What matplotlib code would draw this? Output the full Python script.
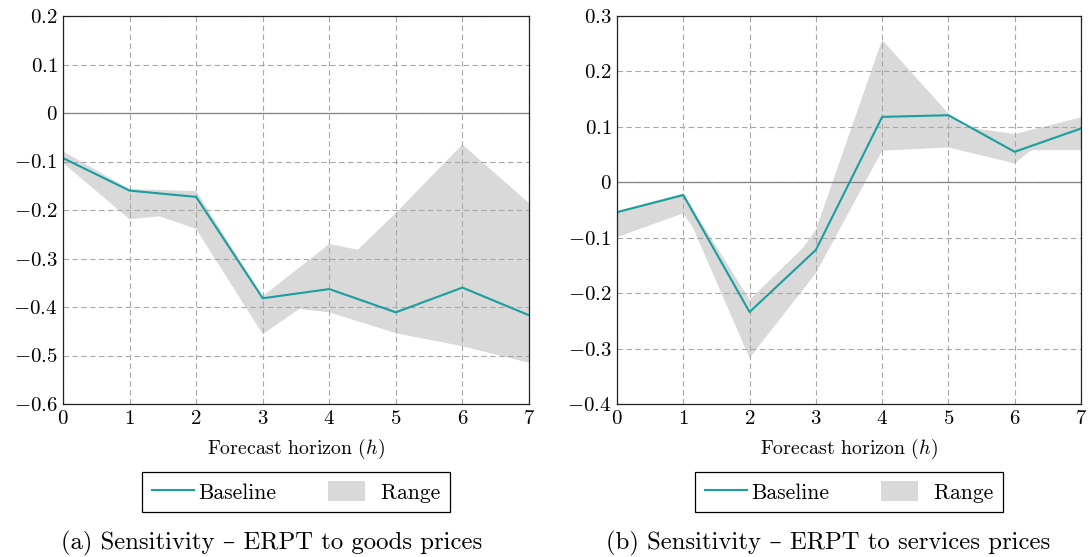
import numpy as np
import matplotlib
matplotlib.use("Agg")
import matplotlib.pyplot as plt
from matplotlib.ticker import FuncFormatter, MultipleLocator
from matplotlib.legend_handler import HandlerPatch
from matplotlib.patches import Rectangle

plt.rcParams['mathtext.fontset'] = 'cm'
plt.rcParams['font.family'] = ['cmr10', 'DejaVu Serif']
plt.rcParams['axes.formatter.use_mathtext'] = True

# ---------------- data ----------------
horizon = [0, 1, 2, 3, 4, 5, 6, 7]

# (a) goods prices
goods_baseline = [-0.093, -0.160, -0.173, -0.382, -0.363, -0.411, -0.360, -0.417]
goods_upper_x = [0, 1, 2, 3, 4, 4.43, 5, 6, 7]
goods_upper_y = [-0.079, -0.157, -0.161, -0.378, -0.270, -0.282, -0.206, -0.065, -0.186]
goods_lower_x = [0, 1, 1.45, 2, 3, 3.55, 4, 5, 6, 7]
goods_lower_y = [-0.103, -0.219, -0.213, -0.239, -0.456, -0.404, -0.411, -0.454, -0.481, -0.515]

# (b) services prices
serv_baseline = [-0.054, -0.023, -0.234, -0.122, 0.118, 0.121, 0.055, 0.097]
serv_upper_x = [0, 1, 2, 2.8, 3, 4, 5, 5.25, 6, 7]
serv_upper_y = [-0.052, -0.020, -0.212, -0.119, -0.086, 0.257, 0.124, 0.100, 0.087, 0.117]
serv_lower_x = [0, 1, 1.15, 2, 3, 4, 5, 6, 6.25, 7]
serv_lower_y = [-0.099, -0.056, -0.083, -0.317, -0.164, 0.057, 0.063, 0.034, 0.058, 0.058]

panels = [
    dict(base=goods_baseline, ux=goods_upper_x, uy=goods_upper_y, lx=goods_lower_x, ly=goods_lower_y,
         ylim=(-0.6, 0.2), caption='(a) Sensitivity – ERPT to goods prices'),
    dict(base=serv_baseline, ux=serv_upper_x, uy=serv_upper_y, lx=serv_lower_x, ly=serv_lower_y,
         ylim=(-0.4, 0.3), caption='(b) Sensitivity – ERPT to services prices'),
]

TEAL = '#1a9e9e'
BAND = '#d9d9d9'

fig = plt.figure(figsize=(10.92, 5.57), dpi=100)
W, H = 1092, 557
axes_px = [(63, 529), (617, 1081)]
caption_cx = [272, 828]
top_px, bot_px = 16, 404


def fmt(v, pos):
    if abs(v) < 1e-9:
        return r'$0$'
    return r'$%.1f$' % v


def small_patch(legend, orig_handle, xdescent, ydescent, width, height, fontsize):
    return Rectangle((-xdescent, -ydescent), width * 0.9, height)


for p, (x0, x1), ccx in zip(panels, axes_px, caption_cx):
    ax = fig.add_axes([x0 / W, 1 - bot_px / H, (x1 - x0) / W, (bot_px - top_px) / H])
    poly_x = list(p['ux']) + list(p['lx'])[::-1]
    poly_y = list(p['uy']) + list(p['ly'])[::-1]
    band = ax.fill(poly_x, poly_y, color=BAND, lw=0, zorder=1)[0]
    line, = ax.plot(horizon, p['base'], color=TEAL, lw=1.5, zorder=3)
    ax.axhline(0, color='#808080', lw=0.9, zorder=2.6)
    ax.set_xlim(0, 7)
    ax.set_ylim(*p['ylim'])
    ax.xaxis.set_major_locator(MultipleLocator(1))
    ax.yaxis.set_major_locator(MultipleLocator(0.1))
    ax.yaxis.set_major_formatter(FuncFormatter(fmt))
    ax.xaxis.set_major_formatter(FuncFormatter(lambda v, pos: r'$%d$' % round(v)))
    ax.set_axisbelow(False)
    ax.grid(True, linestyle=(0, (5, 3)), color='#a8a8a8', lw=0.8, zorder=2.5)
    ax.tick_params(length=0, labelsize=15, pad=4)
    for s in ax.spines.values():
        s.set_linewidth(0.9)
        s.set_color('#222222')
        s.set_zorder(4)
    cx = (x0 + x1) / 2 / W
    fig.text(cx, 1 - 449 / H, r'Forecast horizon ($h$)', ha='center', va='center', fontsize=14.3)
    leg = ax.legend([line, band], ['Baseline', ' Range'],
                    handler_map={band: HandlerPatch(patch_func=small_patch)},
                    loc='center', bbox_to_anchor=(cx, 1 - 492 / H), bbox_transform=fig.transFigure,
                    ncol=2, fontsize=15.5, frameon=True, fancybox=False, framealpha=1,
                    edgecolor='black', handlelength=1.95, handleheight=1.0, handletextpad=0.2,
                    columnspacing=2.4, borderpad=0.45)
    leg.get_frame().set_linewidth(0.9)
    fig.text(ccx / W, 1 - 543 / H, p['caption'], ha='center', va='center', fontsize=17.8)

fig.savefig('out.png', dpi=100)
